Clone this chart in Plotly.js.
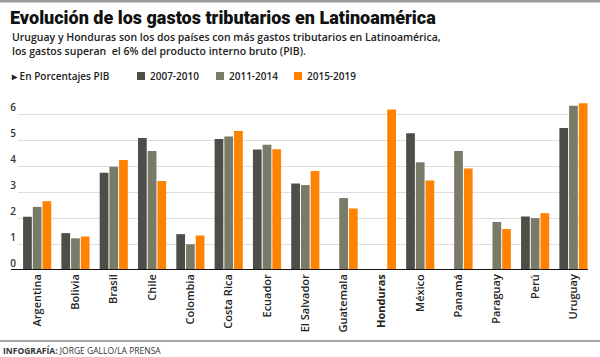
<!DOCTYPE html>
<html>
<head>
<meta charset="utf-8">
<script src="https://cdn.plot.ly/plotly-3.0.1.min.js"></script>
<style>html,body{margin:0;padding:0;background:#fff;}#chart{width:600px;height:357px;}</style>
</head>
<body>
<div id="chart"></div>
<script>
const categories = ["Argentina","Bolivia","Brasil","Chile","Colombia","Costa Rica","Ecuador","El Salvador","Guatemala","Honduras","México","Panamá","Paraguay","Perú","Uruguay"];
const tickLabels = ["Argentina","Bolivia","Brasil","Chile","Colombia","Costa Rica","Ecuador","El Salvador","Guatemala","<b>Honduras</b>","México","Panamá","Paraguay","Perú","Uruguay"];
const seriesNames = ["2007-2010","2011-2014","2015-2019"];
const s2007_2010 = [2.05,1.42,3.74,5.08,1.38,5.04,4.64,3.33,null,null,5.27,null,null,2.06,5.47];
const s2011_2014 = [2.43,1.22,3.98,4.58,0.99,5.14,4.82,3.27,2.77,null,4.15,4.58,1.85,2.00,6.32];
const s2015_2019 = [2.65,1.29,4.24,3.43,1.33,5.35,4.65,3.81,2.37,6.18,3.45,3.91,1.58,2.19,6.42];
const yTicks = [0,1,2,3,4,5,6];
const colors = ["#4d4e48","#7a7a68","#ff8200"];

const W = 600, H = 357;
const M = {l:18, r:12, t:96, b:87};
const PW = W - M.l - M.r, PH = H - M.t - M.b;
const px = X => (X - M.l) / PW;
const py = Y => (H - M.b - Y) / PH;

const series = [s2007_2010, s2011_2014, s2015_2019];
const traces = series.map((vals, i) => ({
  type: "bar",
  x: categories,
  y: vals,
  name: seriesNames[i],
  marker: {color: colors[i], line: {width: 0}},
  hoverinfo: "x+y+name"
}));

const font = "Open Sans, Noto Sans, sans-serif";
const shapes = [
  {type:"line", xref:"paper", yref:"y", x0:px(11), x1:1, y0:0, y1:0, line:{color:"#111", width:2}},
  {type:"line", xref:"paper", yref:"paper", x0:px(0), x1:px(600), y0:py(1), y1:py(1), line:{color:"#9a9a9a", width:3}},
  {type:"line", xref:"paper", yref:"paper", x0:px(0), x1:px(600), y0:py(341), y1:py(341), line:{color:"#8a8a8a", width:1.5}}
];
const legX = [137, 216, 294];
const annotations = [
  {xref:"paper", yref:"paper", x:px(10), y:py(37), xanchor:"left", yanchor:"middle", showarrow:false,
   text:"Uruguay y Honduras son los dos países con más gastos tributarios en Latinoamérica,", font:{family:font, size:10.5, color:"#222", weight:600}},
  {xref:"paper", yref:"paper", x:px(10), y:py(51), xanchor:"left", yanchor:"middle", showarrow:false,
   text:"los gastos superan  el 6% del producto interno bruto (PIB).", font:{family:font, size:10.5, color:"#222", weight:600}},
  {xref:"paper", yref:"paper", x:px(9), y:py(76), xanchor:"left", yanchor:"middle", showarrow:false,
   text:"▸ En Porcentajes PIB", font:{family:font, size:10, color:"#222", weight:600}},
  {xref:"paper", yref:"paper", x:px(1), y:py(350), xanchor:"left", yanchor:"middle", showarrow:false,
   text:"<b>INFOGRAFÍA:</b> JORGE GALLO/LA PRENSA", font:{family:font, size:8.5, color:"#333"}}
];
seriesNames.forEach((n, i) => {
  shapes.push({type:"rect", xref:"paper", yref:"paper", x0:px(legX[i]), x1:px(legX[i]+8), y0:py(80), y1:py(72),
    fillcolor:colors[i], line:{width:0}});
  annotations.push({xref:"paper", yref:"paper", x:px(legX[i]+11), y:py(76), xanchor:"left", yanchor:"middle", showarrow:false,
    text:n, font:{family:font, size:10, color:"#222", weight:600}});
});

const layout = {
  width: W, height: H,
  margin: M,
  paper_bgcolor: "#fff", plot_bgcolor: "#fff",
  showlegend: false,
  barmode: "group",
  bargap: 0.24,
  bargroupgap: 0.1,
  title: {text:"Evolución de los gastos tributarios en Latinoamérica", x:10/W, xanchor:"left", xref:"container",
          y:1-18/H, yanchor:"middle", yref:"container",
          font:{family:"Roboto, sans-serif", size:18, color:"#111", weight:900}},
  xaxis: {
    type:"category", categoryarray: categories, range:[-0.5, 14.38],
    tickvals: categories, ticktext: tickLabels, tickangle:-90,
    tickfont:{family:font, size:11, color:"#222", weight:600},
    showgrid:false, zeroline:false, showline:false, ticks:"", ticklabelstandoff:1
  },
  yaxis: {
    range:[0, 6.7], tickvals: yTicks, ticktext: yTicks.map(String),
    showgrid:true, gridcolor:"#dedede", gridwidth:1, zeroline:false, showline:false, ticks:"",
    ticklabelposition:"outside top",
    tickfont:{family:font, size:10, color:"#333", weight:600}, ticklabelstandoff:1
  },
  shapes: shapes,
  annotations: annotations
};

Plotly.newPlot("chart", traces, layout, {displayModeBar:false, staticPlot:true});
</script>
</body>
</html>
